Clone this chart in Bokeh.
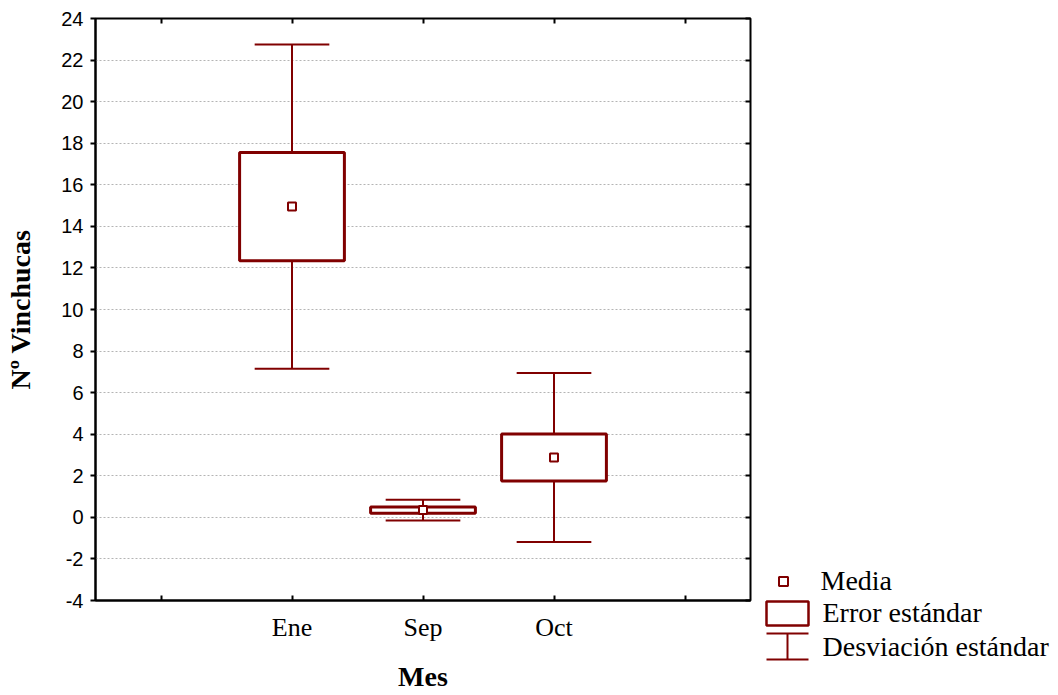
from bokeh.plotting import figure
from bokeh.models import (Range1d, FixedTicker, LinearAxis, ColumnDataSource,
                          CustomLabelingPolicy)
from bokeh.layouts import row
from bokeh.embed import file_html
from bokeh.resources import INLINE
from bokeh.core.properties import value

# ---- data ----
months = ["Ene", "Sep", "Oct"]
means = [14.95, 0.35, 2.88]
std_err = [2.6, 0.15, 1.13]
std_dev = [7.8, 0.50, 4.07]
y_ticks = list(range(-4, 25, 2))
legend_labels = ["Media", "Error estándar", "Desviación estándar"]

# ---- style ----
DARK_RED = "#800000"
BOX_W = 0.8
CAP_W = 0.57
SERIF = "Liberation Serif"
SANS = "Liberation Sans"

xs = [i + 1 for i in range(len(months))]
src = ColumnDataSource(dict(
    x=xs,
    mean=means,
    se_lo=[m - s for m, s in zip(means, std_err)],
    se_hi=[m + s for m, s in zip(means, std_err)],
    sd_lo=[m - s for m, s in zip(means, std_dev)],
    sd_hi=[m + s for m, s in zip(means, std_dev)],
    box_l=[x - BOX_W / 2 for x in xs],
    box_r=[x + BOX_W / 2 for x in xs],
    cap_l=[x - CAP_W / 2 for x in xs],
    cap_r=[x + CAP_W / 2 for x in xs],
))

p = figure(width=760, height=695,
           x_range=Range1d(-0.5, len(months) + 1.5),
           y_range=Range1d(y_ticks[0], y_ticks[-1]),
           output_backend="svg", toolbar_location=None,
           min_border_left=95, min_border_right=10,
           min_border_top=18, min_border_bottom=95)
p.frame_align = False
p.background_fill_color = "white"
p.border_fill_color = "white"
p.outline_line_color = "black"
p.outline_line_width = 2

# axes
xticks = list(range(0, len(months) + 2))
overrides = {t: "" for t in xticks}
for x, m in zip(xs, months):
    overrides[x] = m

xa = p.xaxis[0]
xa.ticker = FixedTicker(ticks=xticks)
xa.major_label_overrides = overrides
xa.major_tick_in = 5
xa.major_tick_out = 0
xa.minor_tick_line_color = None
xa.axis_line_color = "black"
xa.axis_line_width = 2
xa.major_tick_line_width = 2
xa.major_label_text_font = SERIF
xa.major_label_text_font_size = "26px"
xa.major_label_text_color = "black"
xa.major_label_standoff = 12
xa.axis_label = "Mes"
xa.axis_label_text_font = SERIF
xa.axis_label_text_font_style = "bold"
xa.axis_label_text_font_size = "28px"
xa.axis_label_text_color = "black"
xa.axis_label_standoff = 16

ya = p.yaxis[0]
ya.ticker = FixedTicker(ticks=y_ticks)
ya.major_label_overrides = {t: str(t) for t in y_ticks}
ya.major_tick_in = 0
ya.major_tick_out = 5
ya.minor_tick_line_color = None
ya.axis_line_color = "black"
ya.axis_line_width = 2
ya.major_tick_line_width = 2
ya.major_label_text_font = SANS
ya.major_label_text_font_size = "20px"
ya.major_label_text_color = "black"
ya.major_label_standoff = 7
ya.axis_label = "Nº Vinchucas"
ya.axis_label_text_font = SERIF
ya.axis_label_text_font_style = "bold"
ya.axis_label_text_font_size = "28px"
ya.axis_label_text_color = "black"
ya.axis_label_standoff = 22

no_labels = CustomLabelingPolicy(code="return new Set()")
top_ax = LinearAxis(ticker=FixedTicker(ticks=xticks), major_tick_in=5, major_tick_out=0,
                    minor_tick_line_color=None, axis_line_color=None,
                    major_tick_line_width=2, major_label_text_font_size="0px",
                    major_label_standoff=0, major_label_policy=no_labels)
right_ax = LinearAxis(ticker=FixedTicker(ticks=y_ticks), major_tick_in=5, major_tick_out=0,
                      minor_tick_line_color=None, axis_line_color=None,
                      major_tick_line_width=2, major_label_text_font_size="0px",
                      major_label_standoff=0, major_label_policy=no_labels)
p.add_layout(top_ax, "above")
p.add_layout(right_ax, "right")

p.xgrid.grid_line_color = None
p.ygrid.ticker = FixedTicker(ticks=y_ticks)
p.ygrid.grid_line_color = "#b4b4b4"
p.ygrid.grid_line_dash = "2 2"
p.ygrid.grid_line_width = 1

# glyphs
p.segment(x0="x", y0="sd_lo", x1="x", y1="sd_hi", source=src, line_color=DARK_RED, line_width=2)
p.segment(x0="cap_l", y0="sd_hi", x1="cap_r", y1="sd_hi", source=src, line_color=DARK_RED, line_width=2)
p.segment(x0="cap_l", y0="sd_lo", x1="cap_r", y1="sd_lo", source=src, line_color=DARK_RED, line_width=2)
p.quad(left="box_l", right="box_r", bottom="se_lo", top="se_hi", source=src,
       fill_color="white", line_color=DARK_RED, line_width=3)
p.scatter(x="x", y="mean", source=src, marker="square", size=8,
          fill_color="white", line_color=DARK_RED, line_width=2)

# ---- legend panel (its ranges are the panel's own pixels, y downward) ----
LEG_W, LEG_H = 298, 695
leg = figure(width=LEG_W, height=LEG_H, x_range=Range1d(0, LEG_W), y_range=Range1d(LEG_H, 0),
             output_backend="svg", toolbar_location=None,
             x_axis_type=None, y_axis_type=None,
             min_border=0, min_border_left=0, min_border_right=0,
             min_border_top=0, min_border_bottom=0)
leg.frame_align = False
leg.outline_line_color = None
leg.grid.visible = False
leg.background_fill_color = "white"
leg.border_fill_color = "white"

KEY_L, KEY_R = 6, 48
KEY_C = (KEY_L + KEY_R) / 2
leg.scatter(x=[23], y=[581], marker="square", size=9, fill_color="white",
            line_color=DARK_RED, line_width=2)
leg.quad(left=[KEY_L], right=[KEY_R], top=[601], bottom=[625], fill_color="white",
         line_color=DARK_RED, line_width=2.5)
leg.segment(x0=[KEY_L, KEY_L, KEY_C], y0=[633, 659, 633],
            x1=[KEY_R, KEY_R, KEY_C], y1=[633, 659, 659],
            line_color=DARK_RED, line_width=2)
leg.text(x=[60, 62, 62], y=[580, 612, 646], text=legend_labels,
         text_font=value(SERIF), text_font_size="28px", text_color="black",
         text_baseline="alphabetic", text_align="left")

layout = row(p, leg, spacing=0)
open("out.html", "w").write(file_html(layout, INLINE))
